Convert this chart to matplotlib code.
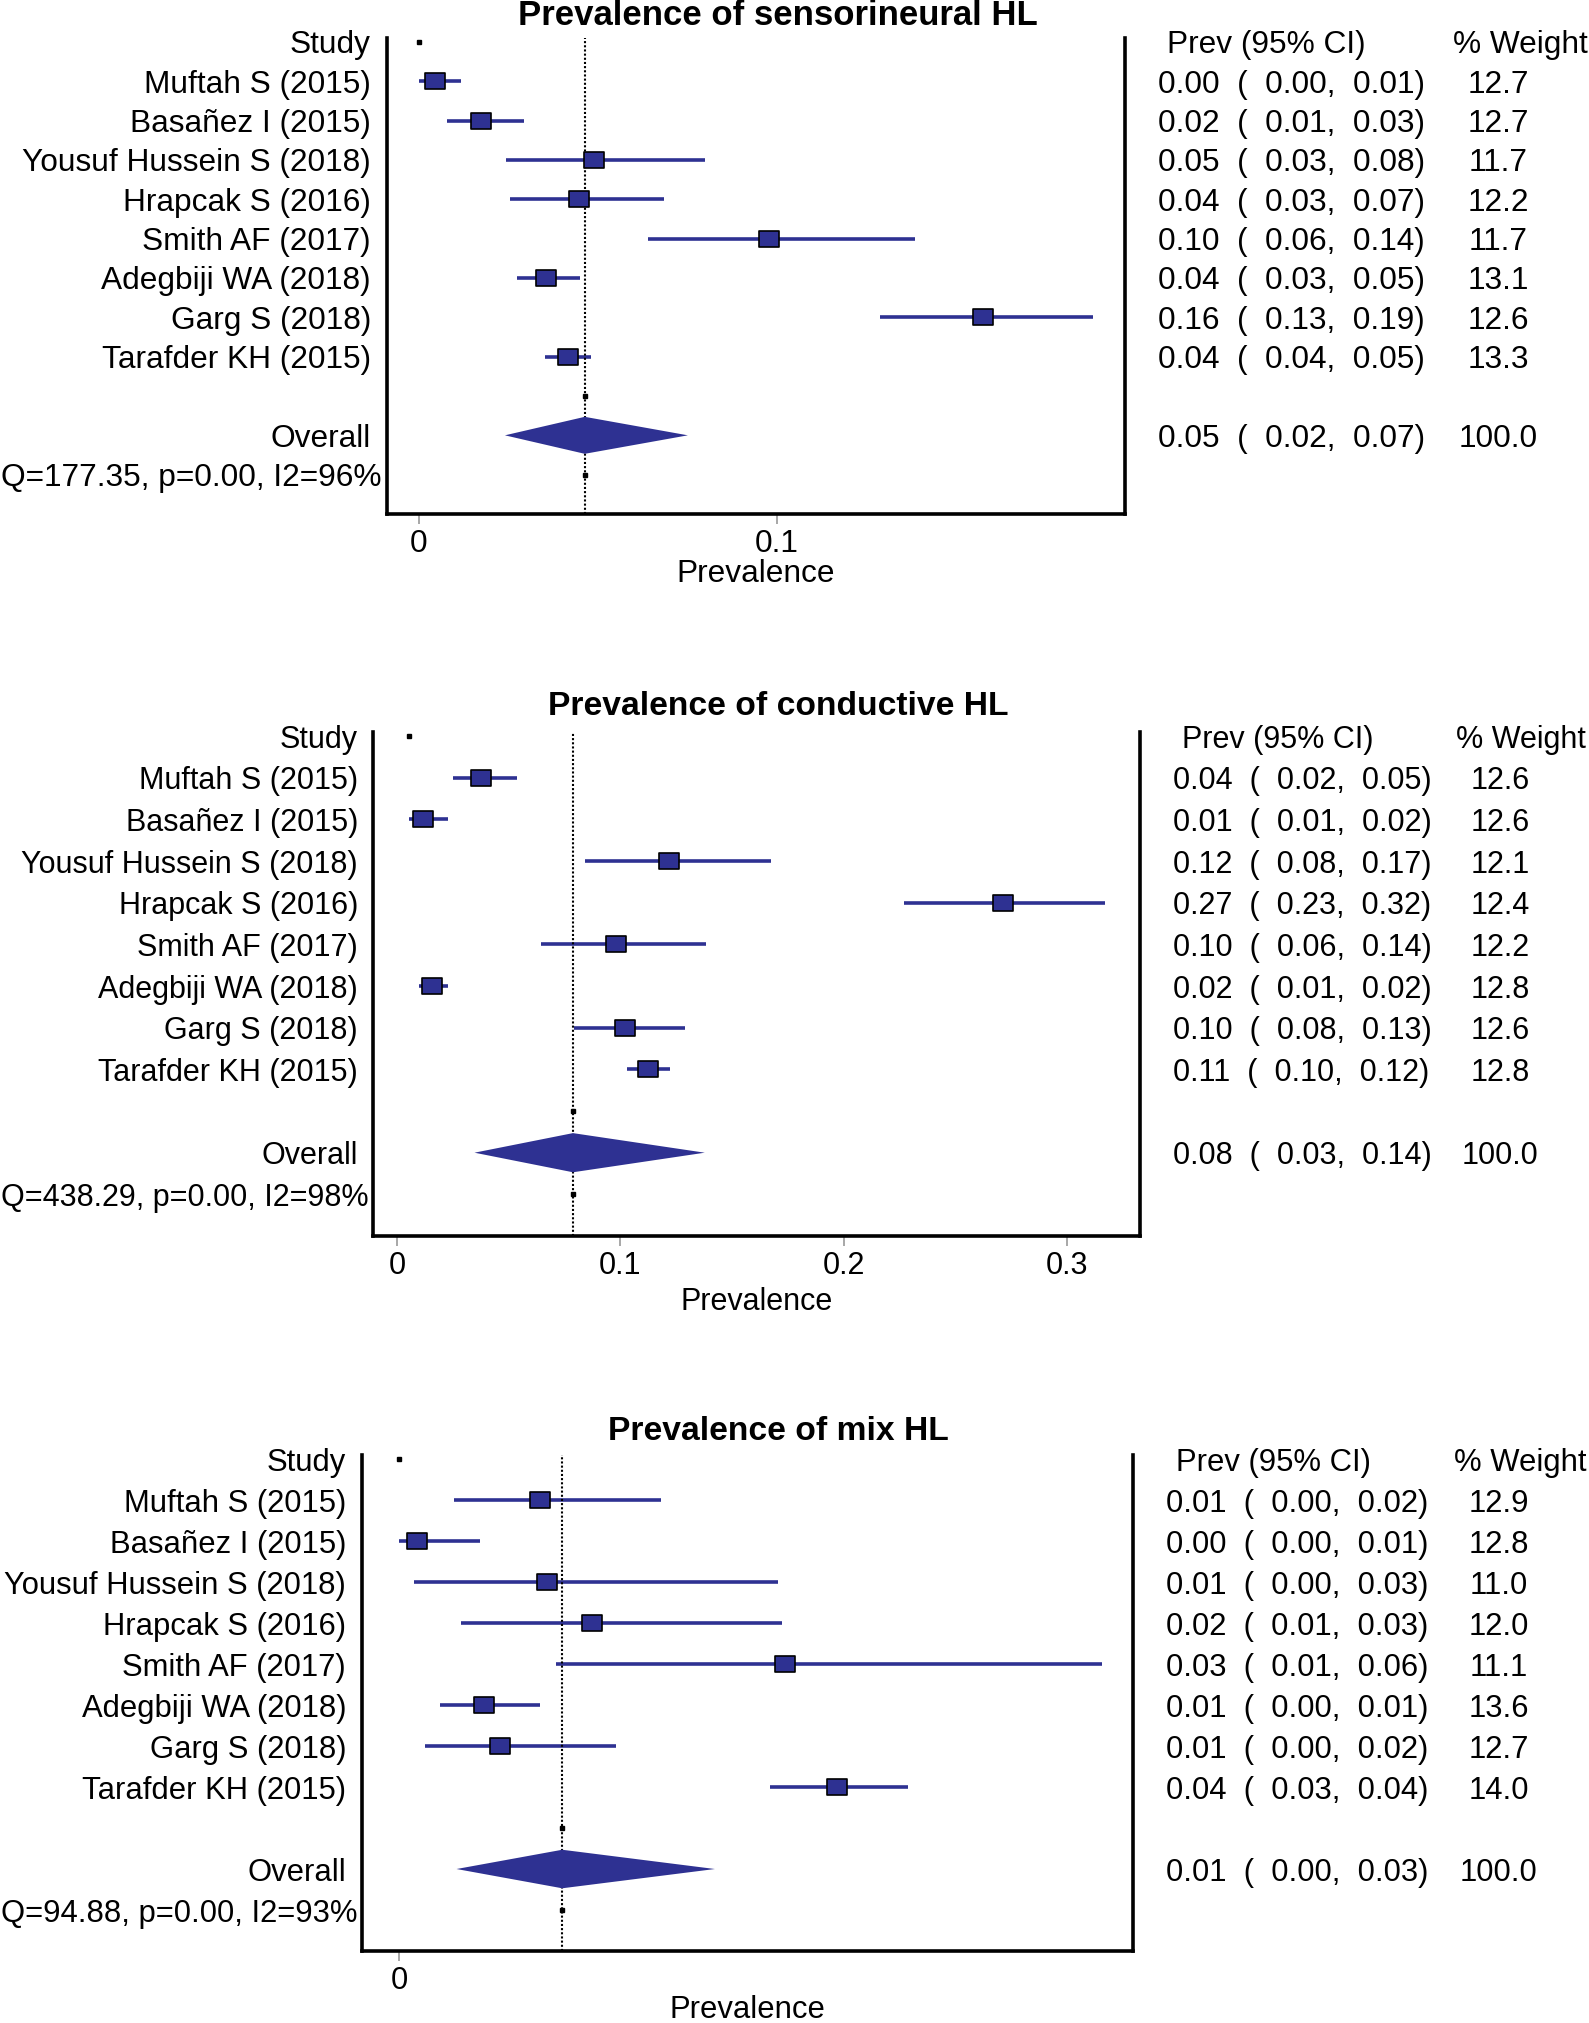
import matplotlib
matplotlib.use("Agg")
import matplotlib.pyplot as plt
import matplotlib.transforms as mtransforms
from matplotlib.path import Path
import numpy as np

plt.rcParams['font.family'] = ['Liberation Sans', 'DejaVu Sans']

W, H = 1589, 2023
navy = '#2E3192'

studies = ["Muftah S (2015)", "Basañez I (2015)", "Yousuf Hussein S (2018)", "Hrapcak S (2016)",
           "Smith AF (2017)", "Adegbiji WA (2018)", "Garg S (2018)", "Tarafder KH (2015)"]

# Prevalence of sensorineural HL (positions)
sn_est = [0.0045, 0.0172, 0.0490, 0.0447, 0.0977, 0.0355, 0.1575, 0.0416]
sn_lo = [0.0000, 0.0079, 0.0243, 0.0255, 0.0640, 0.0273, 0.1289, 0.0352]
sn_hi = [0.0117, 0.0292, 0.0799, 0.0683, 0.1385, 0.0451, 0.1883, 0.0480]
sn_overall = [0.0463, 0.0240, 0.0751]
# printed table
sn_prev = [0.00, 0.02, 0.05, 0.04, 0.10, 0.04, 0.16, 0.04, 0.05]
sn_plo = [0.00, 0.01, 0.03, 0.03, 0.06, 0.03, 0.13, 0.04, 0.02]
sn_phi = [0.01, 0.03, 0.08, 0.07, 0.14, 0.05, 0.19, 0.05, 0.07]
sn_weight = [12.7, 12.7, 11.7, 12.2, 11.7, 13.1, 12.6, 13.3, 100.0]
sn_q = "Q=177.35, p=0.00, I2=96%"

# Prevalence of conductive HL
cd_est = [0.0374, 0.0117, 0.1217, 0.2714, 0.0980, 0.0158, 0.1021, 0.1124]
cd_lo = [0.0251, 0.0052, 0.0840, 0.2272, 0.0645, 0.0100, 0.0792, 0.1032]
cd_hi = [0.0538, 0.0227, 0.1676, 0.3170, 0.1385, 0.0227, 0.1289, 0.1223]
cd_overall = [0.0788, 0.0347, 0.1378]
cd_prev = [0.04, 0.01, 0.12, 0.27, 0.10, 0.02, 0.10, 0.11, 0.08]
cd_plo = [0.02, 0.01, 0.08, 0.23, 0.06, 0.01, 0.08, 0.10, 0.03]
cd_phi = [0.05, 0.02, 0.17, 0.32, 0.14, 0.02, 0.13, 0.12, 0.14]
cd_weight = [12.6, 12.6, 12.1, 12.4, 12.2, 12.8, 12.6, 12.8, 100.0]
cd_q = "Q=438.29, p=0.00, I2=98%"

# Prevalence of mix HL
mx_est = [0.0120, 0.0015, 0.0126, 0.0164, 0.0329, 0.0072, 0.0086, 0.0373]
mx_lo = [0.0047, 0.0000, 0.0013, 0.0053, 0.0134, 0.0035, 0.0022, 0.0316]
mx_hi = [0.0223, 0.0069, 0.0323, 0.0326, 0.0599, 0.0120, 0.0185, 0.0433]
mx_overall = [0.0139, 0.0049, 0.0269]
mx_prev = [0.01, 0.00, 0.01, 0.02, 0.03, 0.01, 0.01, 0.04, 0.01]
mx_plo = [0.00, 0.00, 0.00, 0.01, 0.01, 0.00, 0.00, 0.03, 0.00]
mx_phi = [0.02, 0.01, 0.03, 0.03, 0.06, 0.01, 0.02, 0.04, 0.03]
mx_weight = [12.9, 12.8, 11.0, 12.0, 11.1, 13.6, 12.7, 14.0, 100.0]
mx_q = "Q=94.88, p=0.00, I2=93%"

box_marker = Path([(-0.6, -0.5), (0.6, -0.5), (0.6, 0.5), (-0.6, 0.5), (-0.6, -0.5)],
                  [Path.MOVETO, Path.LINETO, Path.LINETO, Path.LINETO, Path.CLOSEPOLY])

fig = plt.figure(figsize=(W / 100, H / 100), dpi=100)


def panel(box, xlim, ticks, ticklabels, title, title_y, est, lo, hi, ov,
          prev, plo, phi, wt, qtxt, lab_x, val_x, head_x, wt_x, whead_x, xlab_y, fs, tfs):
    left, right, top, bottom = box
    ax = fig.add_axes([left / W, 1 - bottom / H, (right - left) / W, (bottom - top) / H])
    ax.set_xlim(xlim)
    ax.set_ylim(12, -0.1)
    rows = np.arange(1, len(est) + 1)

    ax.hlines(rows, lo, hi, color=navy, lw=2.6, zorder=2)
    ax.axvline(ov[0], color='black', ls=(0, (1, 1)), lw=1.5, zorder=2.5)
    ax.plot(est, rows, ls='none', marker=box_marker, ms=14.5, mfc=navy, mec='black',
            mew=1.2, zorder=3)
    ax.fill([ov[1], ov[0], ov[2], ov[0]], [10, 10 - 0.47, 10, 10 + 0.47],
            color=navy, lw=0, zorder=3)
    # small stray points as in the original output
    ax.plot([min(lo)], [0], ls='none', marker='s', ms=2.2, color='black')
    ax.plot([ov[0], ov[0]], [9, 11], ls='none', marker='s', ms=2.2, color='black')

    for s in ['left', 'right', 'bottom']:
        ax.spines[s].set_linewidth(2.6)
    ax.spines['top'].set_visible(False)
    ax.set_yticks([])
    ax.set_xticks(ticks)
    ax.set_xticklabels(ticklabels)
    ax.tick_params(axis='x', direction='out', length=7, width=1.3, color='#A0A0A0',
                   labelsize=fs, pad=4)

    tr = mtransforms.blended_transform_factory(fig.transFigure, ax.transData)
    ax.text(lab_x / W, 0, "Study", transform=tr, ha='right', va='center_baseline', fontsize=fs)
    for r, name in zip(rows, studies):
        ax.text(lab_x / W, r, name, transform=tr, ha='right', va='center_baseline', fontsize=fs)
    ax.text(lab_x / W, 10, "Overall", transform=tr, ha='right', va='center_baseline', fontsize=fs)
    ax.text(1 / W, 11, qtxt, transform=tr, ha='left', va='center_baseline', fontsize=fs)

    ax.text(head_x / W, 0, "Prev (95% CI)", transform=tr, ha='left', va='center_baseline', fontsize=fs)
    ax.text(whead_x / W, 0, "% Weight", transform=tr, ha='left', va='center_baseline', fontsize=fs)
    trows = list(rows) + [10]
    for r, p, l, h, w in zip(trows, prev, plo, phi, wt):
        ax.text(val_x / W, r, f"{p:.2f}  (  {l:.2f},  {h:.2f})", transform=tr,
                ha='left', va='center_baseline', fontsize=fs)
        ax.text(wt_x / W, r, f"{w:.1f}", transform=tr, ha='center', va='center_baseline', fontsize=fs)

    fig.text(778 / W, 1 - title_y / H, title, ha='center', va='center_baseline',
             fontsize=tfs, fontweight='bold')
    fig.text((left + right) / 2 / W, 1 - xlab_y / H, "Prevalence", ha='center',
             va='center_baseline', fontsize=fs)
    return ax


panel((387, 1125, 38, 514), (-0.00894, 0.1972), [0, 0.1], ["0", "0.1"],
      "Prevalence of sensorineural HL", 12, sn_est, sn_lo, sn_hi, sn_overall,
      sn_prev, sn_plo, sn_phi, sn_weight, sn_q, 371, 1158, 1167, 1498, 1453, 571, 22.8, 25)

panel((373, 1140, 732, 1236), (-0.01075, 0.3327), [0, 0.1, 0.2, 0.3], ["0", "0.1", "0.2", "0.3"],
      "Prevalence of conductive HL", 703, cd_est, cd_lo, cd_hi, cd_overall,
      cd_prev, cd_plo, cd_phi, cd_weight, cd_q, 358, 1173, 1182, 1500, 1456, 1298, 22.0, 24.2)

panel((362, 1133, 1455, 1951), (-0.00315, 0.0625), [0], ["0"],
      "Prevalence of mix HL", 1428, mx_est, mx_lo, mx_hi, mx_overall,
      mx_prev, mx_plo, mx_phi, mx_weight, mx_q, 346, 1166, 1176, 1499, 1454, 2006, 22.3, 24.2)

fig.savefig("out.png", dpi=100)
